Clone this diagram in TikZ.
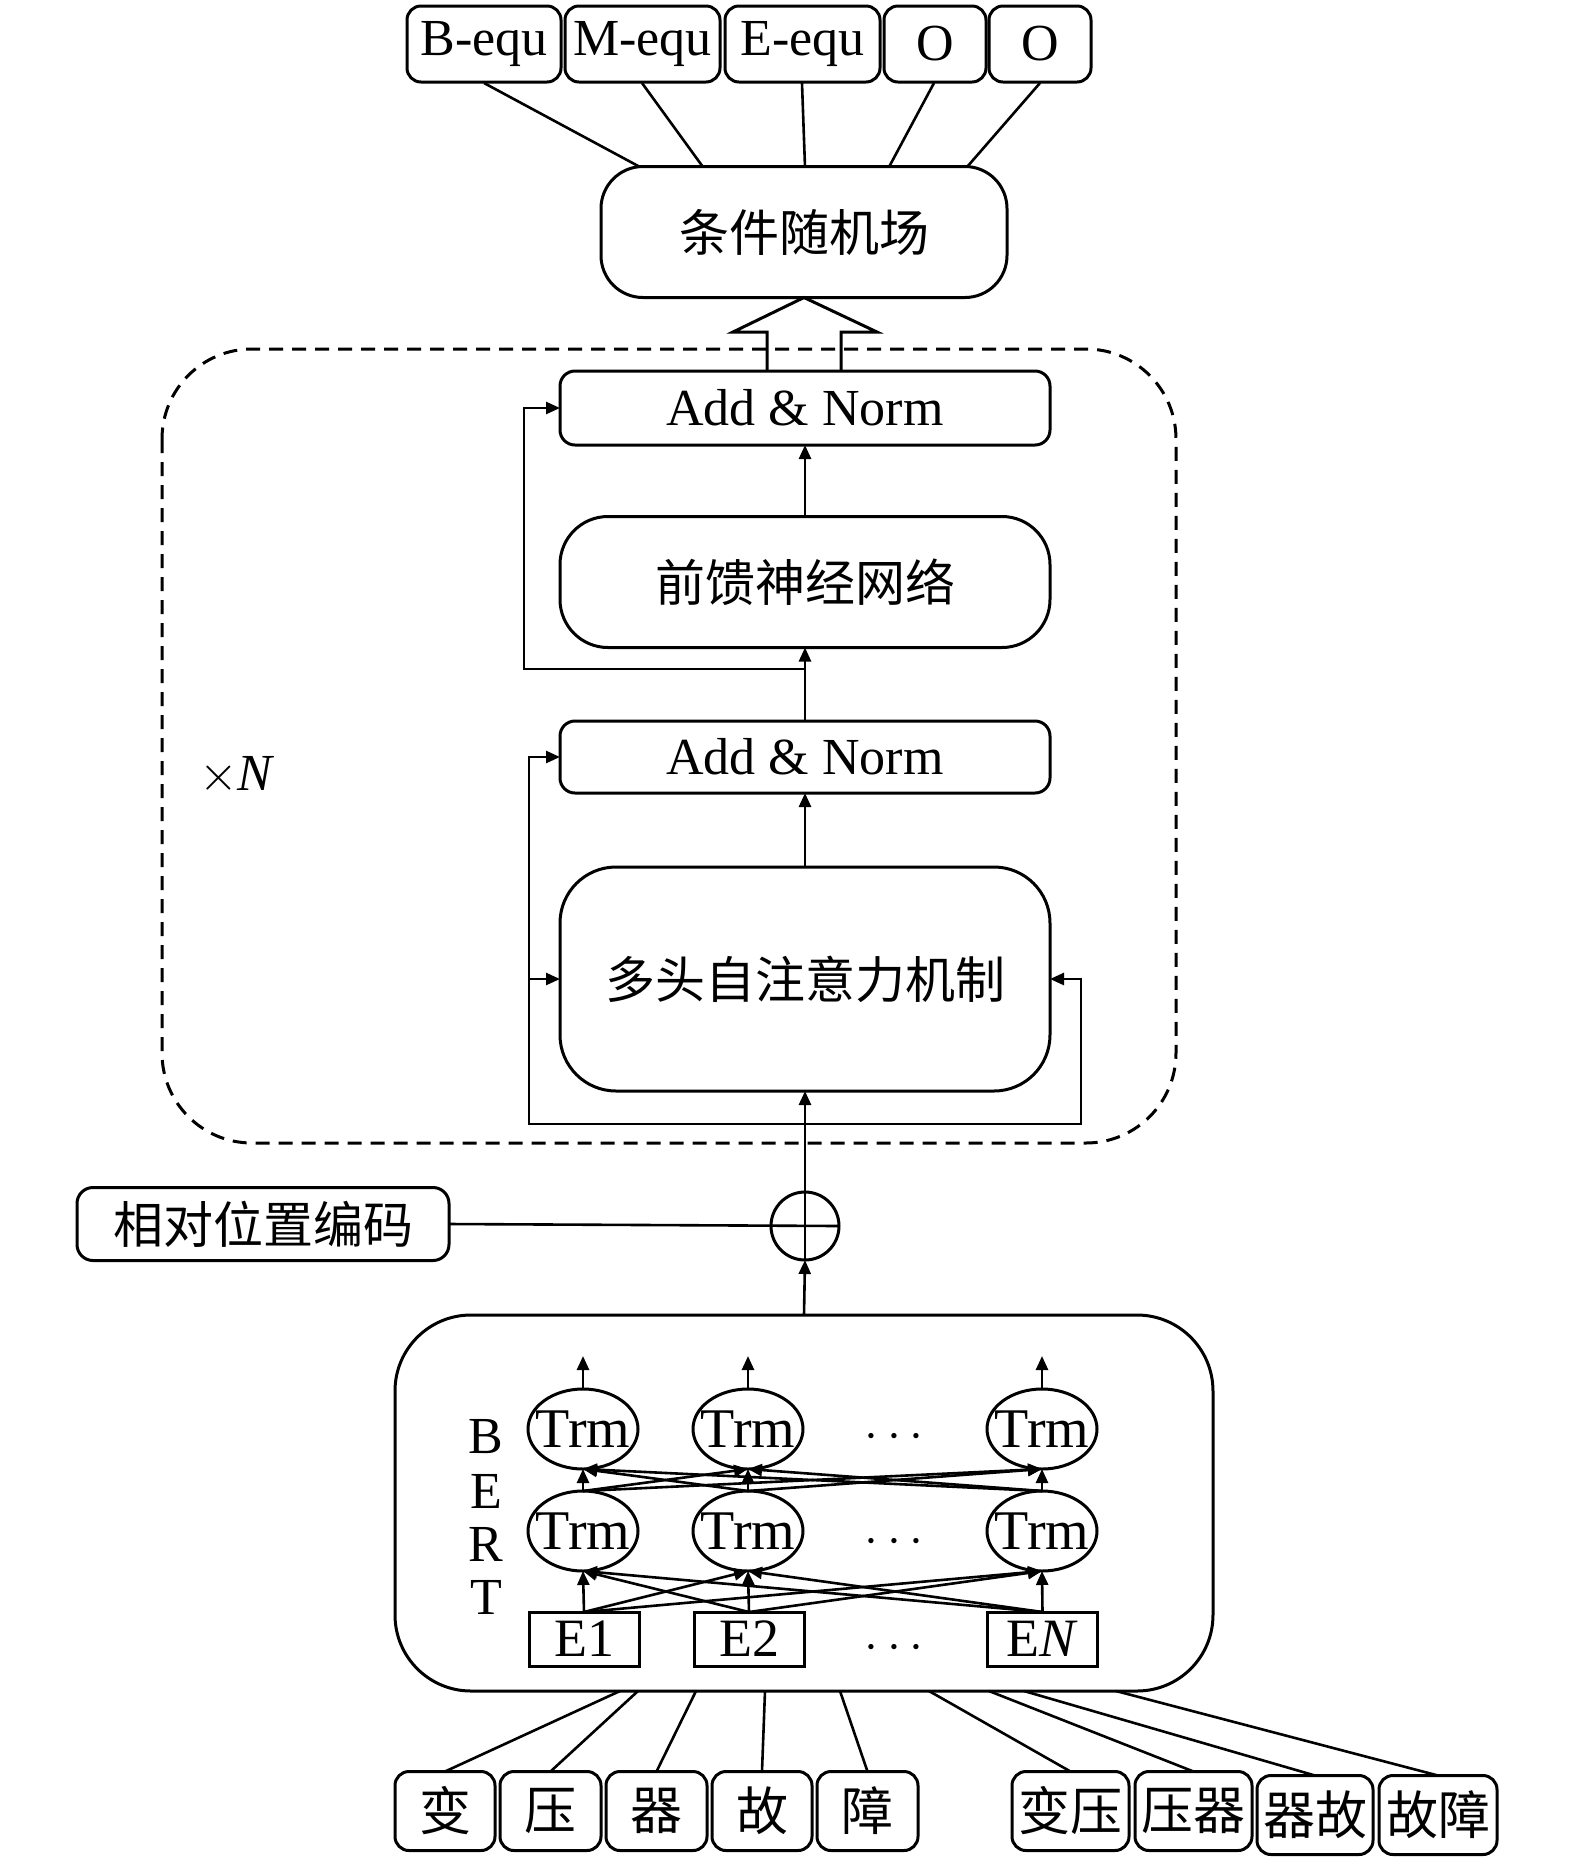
\documentclass[tikz,border=0pt]{standalone}
\usepackage{fontspec}
\setmainfont{Liberation Serif}
\newfontfamily\cjk{Noto Sans CJK SC}
\usetikzlibrary{arrows.meta,calc,shapes.geometric}
\begin{document}
\begin{tikzpicture}[x=0.5pt,y=-0.5pt,
  every node/.style={inner sep=0pt,outer sep=0pt},
  bline/.style={line width=1.5pt},
  cline/.style={line width=1.3pt},
  arr/.style={cline,-{Triangle[length=7pt,width=6pt]}},
  lat/.style={font=\fontsize{26}{26}\selectfont},
  zh/.style={font=\fontsize{25}{25}\selectfont\cjk},
  tagbox/.style={draw,bline,rounded corners=7pt,minimum height=38pt,lat},
  rbox/.style={draw,bline,minimum width=245pt},
  trm/.style={draw,bline,ellipse,minimum width=55pt,minimum height=40pt,font=\fontsize{28}{28}\selectfont},
  ebox/.style={draw,bline,minimum width=55pt,minimum height=27pt,font=\fontsize{27}{27}\selectfont},
  tok/.style={draw,bline,rounded corners=7pt,minimum height=39.5pt,font=\fontsize{26}{26}\selectfont\cjk},
  dots/.style={font=\fontsize{26}{26}\selectfont}]
\useasboundingbox (0,0) rectangle (1575,1860);

% top tags
\node[tagbox,minimum width=77pt] (t1) at (484,44) {B-equ};
\node[tagbox,minimum width=77.5pt] (t2) at (642.5,44) {M-equ};
\node[tagbox,minimum width=77.5pt] (t3) at (802.5,44) {E-equ};
\node[tagbox,minimum width=51pt] (t4) at (935,44) {O};
\node[tagbox,minimum width=51pt] (t5) at (1040,44) {O};

% CRF
\node[draw,bline,rounded corners=21pt,minimum width=203pt,minimum height=65.5pt,zh] (crf) at (804,232) {条件随机场};
\coordinate (c1) at (640,167);
\coordinate (c2) at (703,167);
\coordinate (c3) at (805,167);
\coordinate (c4) at (889,167);
\coordinate (c5) at (967,167);
\coordinate (s1) at (484,83);
\coordinate (s2) at (642,83);
\coordinate (s3) at (802,83);
\coordinate (s4) at (934,83);
\coordinate (s5) at (1040,83);
\foreach \i in {1,...,5} {\draw[cline] (s\i) -- (c\i);}

% dashed block
\draw[bline,dash pattern=on 7pt off 4.5pt,rounded corners=45pt] (162,349) rectangle (1176,1143);
\node[lat] (xn) at (237,776) {$\times$\textit{N}};

% encoder blocks
\node[rbox,rounded corners=7.5pt,minimum height=37pt,lat] (an1) at (805,408) {Add \& Norm};
\node[rbox,rounded corners=24pt,minimum height=65.5pt,zh] (ffn) at (805,582) {前馈神经网络};
\node[rbox,rounded corners=7.5pt,minimum height=36pt,lat] (an2) at (805,757) {Add \& Norm};
\node[rbox,rounded corners=28pt,minimum height=112pt,zh] (mha) at (805,979) {多头自注意力机制};

% hollow arrow to CRF
\draw[bline,line join=miter] ($(an1.north)+(-38,0)$) -- ++(0,-39) -- ++(-34,0) -- (crf.south)
  -- ($(an1.north)+(72,-39)$) -- ++(-36,0) -- ++(0,39);

% vertical connectors
\draw[arr] (ffn.north) -- (an1.south);
\draw[arr] (an2.north) -- (ffn.south);
\draw[arr] (mha.north) -- (an2.south);

% residuals
\coordinate (br1) at (805,669);
\coordinate (k1) at (524,669);
\draw[arr] (br1) -- (k1) |- (an1.west);
\coordinate (br2) at (805,1124);
\coordinate (k2) at (529,1124);
\coordinate (k3) at (1081,1124);
\coordinate (k4) at (529,979);
\draw[arr] (br2) -- (k2) |- (an2.west);
\draw[arr] (k4) -- (mha.west);
\draw[arr] (br2) -- (k3) |- (mha.east);

% oplus and positional encoding
\node[draw,bline,circle,minimum size=34pt] (op) at (805,1226) {};
\draw[cline] (op.north) -- (op.south);
\node[draw,bline,rounded corners=8pt,minimum width=186pt,minimum height=36.5pt,zh] (rpe) at (263,1224) {相对位置编码};
\draw[cline] (rpe.east) -- (op.east);
\draw[arr] (op.north) -- (mha.south);

% BERT
\node[draw,bline,rounded corners=38pt,minimum width=409pt,minimum height=188pt] (bert) at (804,1503) {};
\draw[arr] (bert.north) -- (op.south);
\node[lat] (lb) at (486,1437) {B};
\node[lat] (le) at (486,1491) {E};
\node[lat] (lr) at (486,1544) {R};
\node[lat] (lt) at (486,1597) {T};

\node[trm] (u1) at (583,1429) {\makebox[0pt]{Trm}};
\node[trm] (u2) at (748,1429) {\makebox[0pt]{Trm}};
\node[trm] (u3) at (1042,1429) {\makebox[0pt]{Trm}};
\node[trm] (m1) at (583,1531) {\makebox[0pt]{Trm}};
\node[trm] (m2) at (748,1531) {\makebox[0pt]{Trm}};
\node[trm] (m3) at (1042,1531) {\makebox[0pt]{Trm}};
\node[ebox] (e1) at (584,1639) {E1};
\node[ebox] (e2) at (749,1639) {E2};
\node[ebox] (e3) at (1042.5,1639) {E\textit{N}};
\node[dots] (d1) at (894,1437) {$\cdots$};
\node[dots] (d2) at (894,1542) {$\cdots$};
\node[dots] (d3) at (894,1648) {$\cdots$};

\coordinate (o1) at (583,1356);
\coordinate (o2) at (748,1356);
\coordinate (o3) at (1042,1356);
\foreach \i in {1,2,3} {\draw[arr] (u\i.north) -- (o\i);}
\foreach \i in {1,2,3} {\foreach \j in {1,2,3} {
  \draw[arr] (e\i.north) -- (m\j.south);
  \draw[arr] (m\i.north) -- (u\j.south);
}}

% tokens
\node[tok,minimum width=50pt] (w1) at (445,1811) {变};
\node[tok,minimum width=50.5pt] (w2) at (550.5,1811) {压};
\node[tok,minimum width=50.5pt] (w3) at (656.5,1811) {器};
\node[tok,minimum width=50pt] (w4) at (762,1811) {故};
\node[tok,minimum width=50.5pt] (w5) at (867.5,1811) {障};
\node[tok,minimum width=58.5pt] (w6) at (1070.5,1811) {变压};
\node[tok,minimum width=58.5pt] (w7) at (1193.5,1811) {压器};
\node[tok,minimum width=58pt] (w8) at (1315,1815) {器故};
\node[tok,minimum width=59pt] (w9) at (1438,1815) {故障};

\coordinate (b1) at (620,1691);
\coordinate (b2) at (638,1691);
\coordinate (b3) at (696,1691);
\coordinate (b4) at (765,1691);
\coordinate (b5) at (840,1691);
\coordinate (b6) at (929,1691);
\coordinate (b7) at (989,1691);
\coordinate (b8) at (1024,1691);
\coordinate (b9) at (1116,1691);
\foreach \i in {1,...,9} {\draw[cline] (b\i) -- (w\i.north);}
\end{tikzpicture}
\end{document}
